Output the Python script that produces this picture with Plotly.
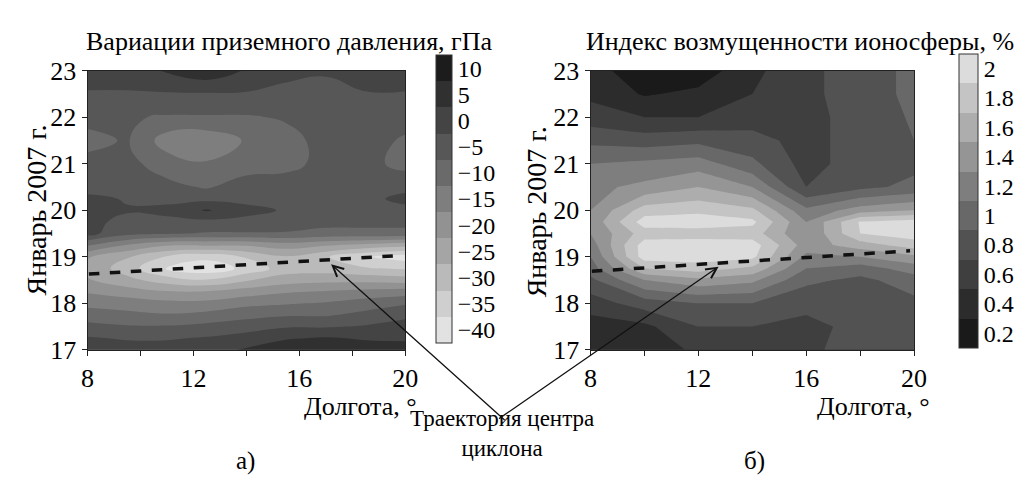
import plotly.graph_objects as go

W, H = 1023, 479
FONT = "Liberation Serif"

# ---- (а) surface pressure variations, hPa ----
lon_p = [8, 9.5, 11, 12.5, 14, 15.5, 17, 18.5, 20]
day_p = [17, 17.25, 17.5, 17.75, 18, 18.25, 18.5, 18.75, 19, 19.25,
         19.5, 19.75, 20, 20.25, 20.5, 21, 21.5, 22, 22.5, 23]
pressure = [
    [1, 0, 0, 1, 3, 6, 7, 5, 4],
    [-2, -3, -3, -2, 0, 2, 3, 2, 2],
    [-6, -7, -7, -6, -5, -3, -3, -2, 0],
    [-10, -11, -12, -11, -9, -8, -8, -6, -4],
    [-14, -15, -16, -16, -14, -13, -12, -10, -8],
    [-18, -20, -22, -22, -20, -18, -17, -16, -15],
    [-22, -26, -30, -32, -28, -25, -24, -24, -25],
    [-24, -30, -38, -41, -36, -30, -30, -32, -33],
    [-22, -27, -33, -36, -32, -28, -32, -37, -40],
    [-12, -18, -22, -22, -22, -20, -22, -24, -26],
    [-1, -6, -7, -8, -8, -8, -9, -9, -9],
    [-1, -4, -4, -4, -4, -5, -6, -6, -6],
    [0, -2, -1, 3, -1, -3, -5, -5, -4],
    [-1, -3, -4, -4, -4, -5, -5, -4, -1],
    [-5, -5, -6, -8, -5, -5, -5, -5, -4],
    [-6, -6, -10, -12, -10, -9, -6, -6, -9],
    [-9, -7, -15, -16, -12, -9, -6, -6, -8],
    [-6, -7, -8, -8, -8, -7, -6, -6, -6],
    [-3, -3, -3, -3, -3, -4, -4, -3, -3],
    [0, 0, 3, 6, 2, -1, -2, 1, 1],
]
press_levels = [-40, -35, -30, -25, -20, -15, -10, -5, 0, 5, 10]
press_grays = ["#e2e2e2", "#cfcfcf", "#bababa", "#a5a5a5", "#929292", "#7e7e7e",
               "#6a6a6a", "#575757", "#444444", "#303030", "#1c1c1c"]

# ---- (б) ionospheric disturbance index, % ----
lon_i = [8, 10, 12, 14, 16, 18, 20]
day_i = [17, 17.5, 18, 18.5, 18.75, 19, 19.25, 19.5, 19.75, 20, 20.5, 21, 21.5, 22, 22.5, 23]
iono = [
    [0.40, 0.35, 0.55, 0.65, 0.65, 0.80, 0.85],
    [0.40, 0.45, 0.70, 0.70, 0.65, 0.75, 0.85],
    [0.60, 0.80, 0.90, 0.90, 0.75, 0.75, 0.85],
    [0.85, 1.30, 1.45, 1.35, 0.95, 0.85, 1.00],
    [1.00, 1.70, 1.80, 1.65, 1.10, 1.00, 1.20],
    [1.10, 2.00, 2.00, 1.95, 1.25, 1.30, 1.45],
    [1.20, 2.00, 2.02, 2.00, 1.40, 1.60, 1.80],
    [1.30, 1.80, 1.80, 1.80, 1.30, 1.90, 2.00],
    [1.35, 2.00, 2.02, 1.95, 1.30, 1.92, 2.00],
    [1.30, 1.80, 1.85, 1.75, 1.15, 1.40, 1.50],
    [1.25, 1.35, 1.50, 1.30, 0.70, 0.85, 0.95],
    [1.10, 1.15, 1.20, 0.95, 0.62, 0.80, 0.85],
    [0.85, 0.80, 0.85, 0.78, 0.62, 0.80, 0.90],
    [0.60, 0.50, 0.50, 0.60, 0.62, 0.80, 0.92],
    [0.45, 0.28, 0.35, 0.50, 0.65, 0.80, 0.95],
    [0.40, 0.15, 0.18, 0.45, 0.65, 0.80, 0.95],
]
iono_levels = [0.2, 0.4, 0.6, 0.8, 1.0, 1.2, 1.4, 1.6, 1.8, 2.0]
iono_labels = ["0.2", "0.4", "0.6", "0.8", "1", "1.2", "1.4", "1.6", "1.8", "2"]
iono_grays = ["#1a1a1a", "#2c2c2c", "#3f3f3f", "#525252", "#686868",
              "#7e7e7e", "#959595", "#adadad", "#c4c4c4", "#dcdcdc"]

# cyclone centre trajectory
track_lon = [8.05, 19.85]
track_day_p = [18.63, 19.03]
track_day_i = [18.69, 19.13]

lon_ticks = [8, 10, 12, 14, 16, 18, 20]
lon_ticktext = ["8", "", "12", "", "16", "", "20"]
day_ticks = [17, 18, 19, 20, 21, 22, 23]


def band_scale(levels, grays, size):
    lo, hi = levels[0] - size / 2, levels[-1] + size / 2
    sc = [[0.0, grays[0]]]
    for v, g in zip(levels, grays):
        sc.append([(v - lo) / (hi - lo), g])
    sc.append([1.0, grays[-1]])
    return sc


def minus(v):
    return f"{v:g}".replace("-", "\u2212")


def px(xp):
    return xp / W


def py(yp):
    return 1 - yp / H


CB_TOP_SHIFT = 18  # plotly keeps this many px free above the bar


def cbar(x0, thick, top, bottom, vals, texts):
    top = top - CB_TOP_SHIFT
    return dict(x=px(x0), xanchor="left", y=py((top + bottom) / 2), yanchor="middle",
                len=(bottom - top) / H, lenmode="fraction",
                thickness=thick, thicknessmode="pixels",
                xpad=0, ypad=0, outlinewidth=1, outlinecolor="#333333",
                tickvals=vals, ticktext=texts, ticks="", ticklen=0,
                tickfont=dict(family=FONT, size=24, color="black"))


fig = go.Figure()

fig.add_trace(go.Contour(
    x=lon_p, y=day_p, z=pressure, xaxis="x", yaxis="y",
    autocontour=False, zmin=-42.5, zmax=12.5000001,
    contours=dict(start=-42.5, end=12.5, size=5, coloring="fill", showlines=False),
    line=dict(width=0, smoothing=1.3),
    colorscale=band_scale(press_levels, press_grays, 5),
    colorbar=cbar(429, 16, 53, 342, press_levels, [minus(v) for v in press_levels]),
    hoverinfo="skip",
))

fig.add_trace(go.Contour(
    x=lon_i, y=day_i, z=iono, xaxis="x2", yaxis="y2",
    autocontour=False, zmin=0.1, zmax=2.1000001,
    contours=dict(start=0.1, end=2.1, size=0.2, coloring="fill", showlines=False),
    line=dict(width=0, smoothing=0),
    colorscale=band_scale(iono_levels, iono_grays, 0.2),
    colorbar=cbar(963, 19, 52, 347, iono_levels, iono_labels),
    hoverinfo="skip",
))

fig.add_trace(go.Scatter(x=track_lon, y=track_day_p, mode="lines", xaxis="x", yaxis="y",
                         line=dict(color="#111111", width=3.5, dash="dash"),
                         showlegend=False, hoverinfo="skip"))
fig.add_trace(go.Scatter(x=track_lon, y=track_day_i, mode="lines", xaxis="x2", yaxis="y2",
                         line=dict(color="#111111", width=3.5, dash="dash"),
                         showlegend=False, hoverinfo="skip"))

axis_common = dict(
    showgrid=False, zeroline=False, showline=True, mirror=True,
    linecolor="#222222", linewidth=1, ticks="outside", ticklen=5, tickwidth=1,
    tickcolor="#222222", tickfont=dict(family=FONT, size=26, color="black"),
)

fig.update_layout(
    width=W, height=H,
    margin=dict(l=0, r=0, t=0, b=0),
    paper_bgcolor="white", plot_bgcolor="white",
    showlegend=False,
    xaxis=dict(domain=[px(74), px(398)], range=[8, 20], anchor="y",
               tickvals=lon_ticks, ticktext=lon_ticktext, **axis_common),
    yaxis=dict(domain=[py(349), py(52)], range=[17, 23], anchor="x",
               tickvals=day_ticks, **axis_common),
    xaxis2=dict(domain=[px(587), px(917)], range=[8, 20], anchor="y2",
                tickvals=lon_ticks, ticktext=lon_ticktext, **axis_common),
    yaxis2=dict(domain=[py(349), py(52)], range=[17, 23], anchor="x2",
                tickvals=day_ticks, **axis_common),
)

ann = [
    dict(text="Вариации приземного давления, гПа", x=px(280), y=py(21), size=26),
    dict(text="Индекс возмущенности ионосферы, %", x=px(801), y=py(21), size=26),
    dict(text="Январь 2007 г.", x=px(22), y=py(200), textangle=-90, size=28),
    dict(text="Январь 2007 г.", x=px(532), y=py(202), textangle=-90, size=28),
    dict(text="Долгота, °", x=px(352), y=py(409), size=26),
    dict(text="Долгота, °", x=px(876), y=py(409), size=26),
    dict(text="Траектория центра<br>циклона", x=px(497), y=py(438), size=23),
    dict(text="а)", x=px(235), y=py(467), size=25),
    dict(text="б)", x=px(754), y=py(467), size=25),
]
for a in ann:
    size = a.pop("size")
    a.update(xref="paper", yref="paper", showarrow=False,
             font=dict(family=FONT, size=size, color="black"),
             xanchor="center", yanchor="middle")
    fig.add_annotation(**a)

# arrows from the label to the trajectory lines
fig.add_annotation(x=17.2, y=18.84, xref="x", yref="y", text="", showarrow=True,
                   ax=175, ay=157, arrowhead=5, arrowsize=1.6, arrowwidth=1.3,
                   arrowcolor="#111111", standoff=0)
fig.add_annotation(x=12.75, y=18.79, xref="x2", yref="y2", text="", showarrow=True,
                   ax=-221, ay=153, arrowhead=5, arrowsize=1.6, arrowwidth=1.3,
                   arrowcolor="#111111", standoff=0)

fig.write_html("out.html")
